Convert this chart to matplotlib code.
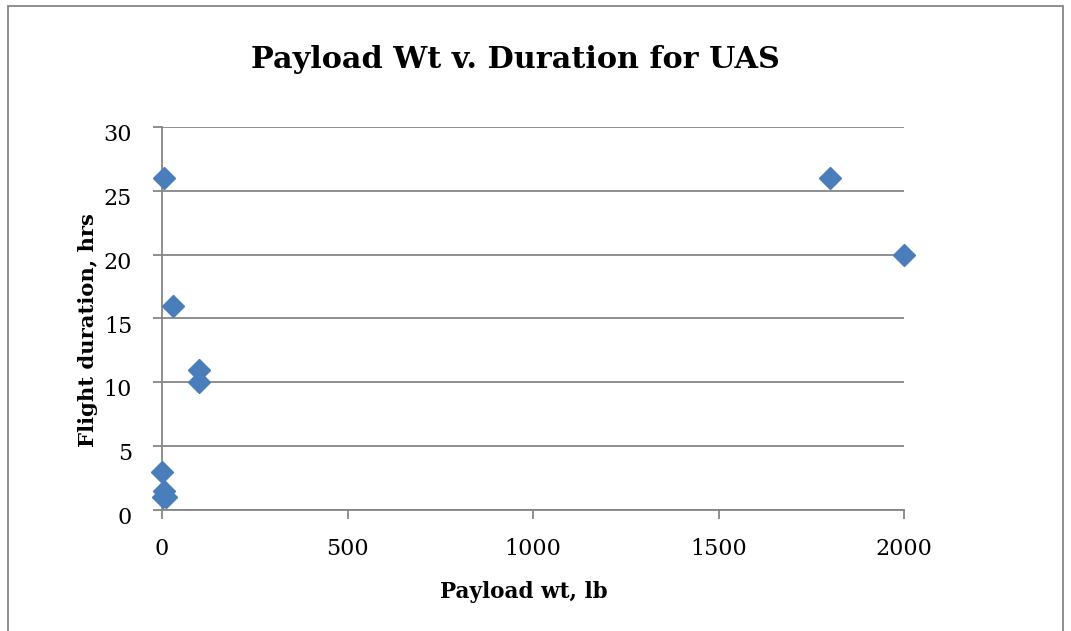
import matplotlib
matplotlib.use("Agg")
from matplotlib import pyplot as plt
from matplotlib.patches import Rectangle
from matplotlib.transforms import ScaledTranslation

# payload weight (lb) vs flight duration (hrs)
payload_wt = [5, 1800, 2000, 30, 100, 100, 1, 5, 10, 2]
duration_hrs = [26, 26, 20, 16, 11, 10, 3, 1.5, 1, 1]

x_ticks = [0, 500, 1000, 1500, 2000]
y_ticks = [0, 5, 10, 15, 20, 25, 30]

plt.rcParams['font.family'] = ['DejaVu Serif']

fig = plt.figure(figsize=(10.71, 6.31), dpi=100)
ax = fig.add_axes([0.1513, 0.1918, 0.6928, 0.6069])

grid_col = '#868686'
ax.plot(payload_wt, duration_hrs, 'D', color='#4a7ebb', markersize=11,
        markeredgecolor='#4a7ebb', clip_on=False, zorder=3)

ax.set_xlim(0, 2000)
ax.set_ylim(0, 30)
ax.set_xticks(x_ticks)
ax.set_yticks(y_ticks)
ax.yaxis.grid(True, color=grid_col, linewidth=1.3)
ax.set_axisbelow(True)

for s in ['top', 'right']:
    ax.spines[s].set_visible(False)
ax.spines['left'].set_color(grid_col)
ax.spines['bottom'].set_color(grid_col)
ax.spines['left'].set_linewidth(1.3)
ax.spines['bottom'].set_linewidth(1.3)
ax.tick_params(axis='both', colors=grid_col, labelcolor='black', labelsize=16,
               length=6.5, width=1.3)
ax.tick_params(axis='y', pad=15)
ax.tick_params(axis='x', pad=14)

# y tick labels sit a little below their gridlines
shift = ScaledTranslation(0, -4 / 72, fig.dpi_scale_trans)
for lab in ax.get_yticklabels():
    lab.set_transform(lab.get_transform() + shift)

fig.text(524 / 1071, 1 - 592 / 631, "Payload wt, lb", fontsize=15.5,
         fontweight='bold', ha='center', va='center')
fig.text(88 / 1071, 1 - 330 / 631, "Flight duration, hrs", fontsize=15.2,
         fontweight='bold', ha='center', va='center', rotation=90)

fig.text(0.481, 1 - 60 / 631, "Payload Wt v. Duration for UAS", fontsize=21.8,
         fontweight='bold', ha='center', va='center')

# chart border
fig.patches.append(Rectangle((8 / 1071, -0.01), 1055 / 1071, 1 - 6 / 631 + 0.01,
                             transform=fig.transFigure, fill=False,
                             edgecolor='#868686', linewidth=1.3))

plt.savefig("out.png", dpi=100)
